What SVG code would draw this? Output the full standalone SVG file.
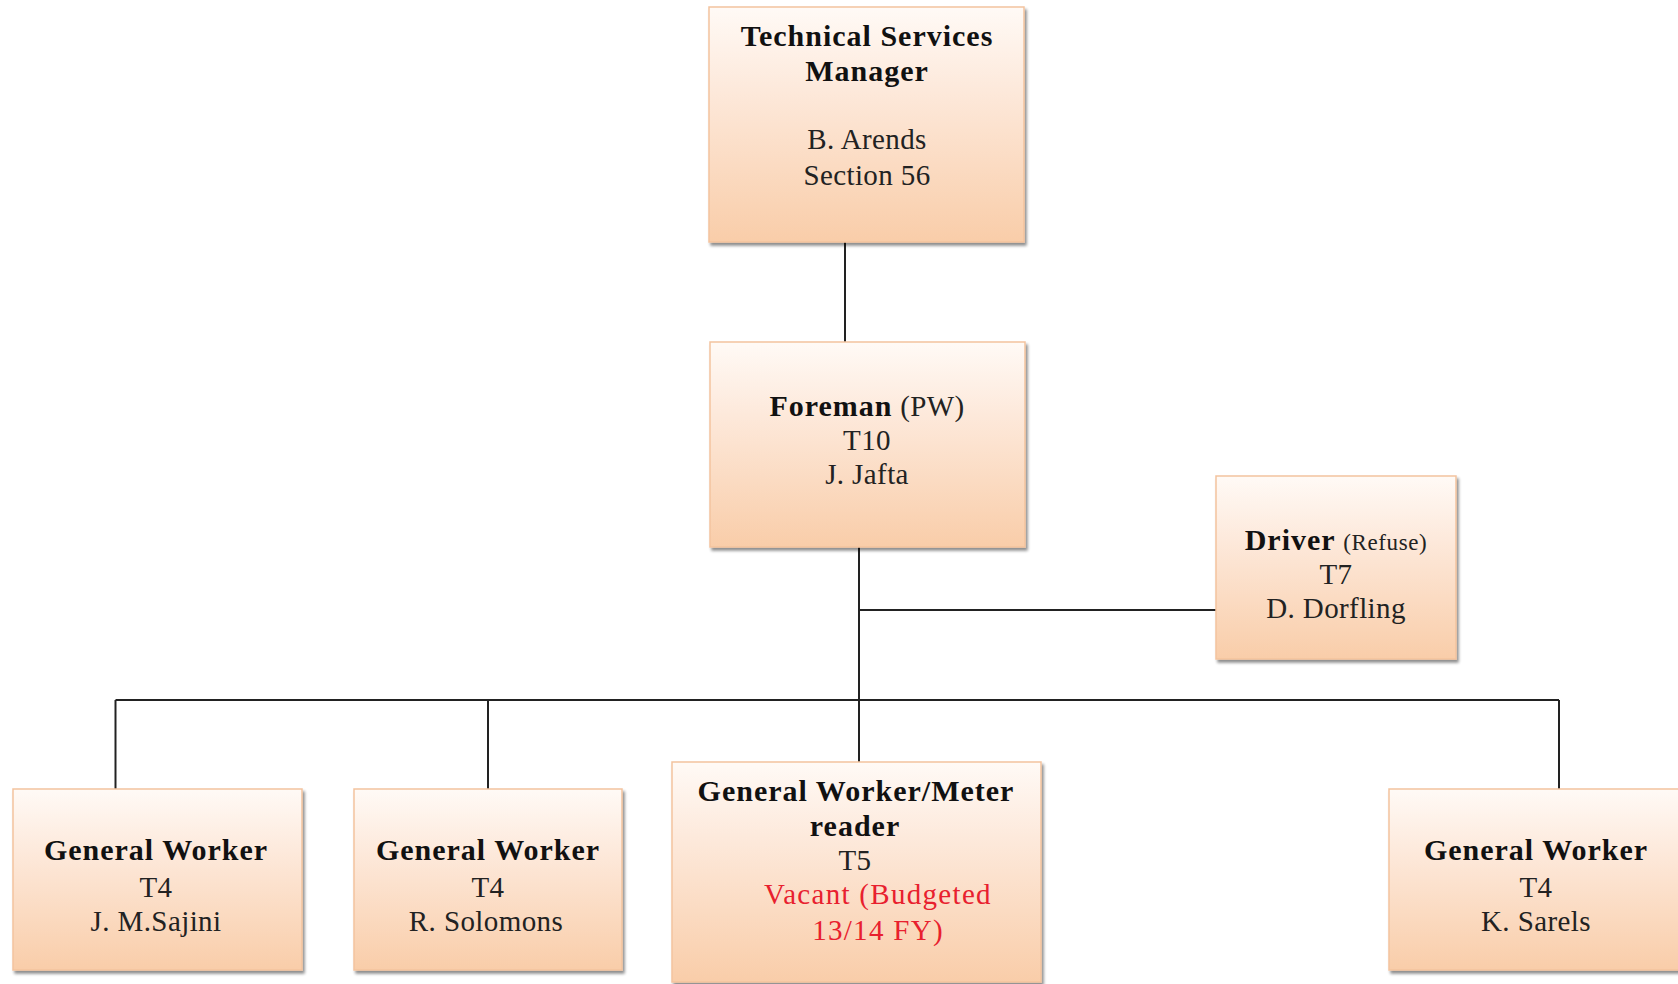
<svg xmlns="http://www.w3.org/2000/svg" width="1678" height="984" viewBox="0 0 1678 984">
<defs>
<linearGradient id="peach" x1="0" y1="0" x2="0" y2="1">
<stop offset="0" stop-color="#fffaf6"/>
<stop offset="0.35" stop-color="#fde9db"/>
<stop offset="1" stop-color="#f9cda9"/>
</linearGradient>
<filter id="sh" x="-5%" y="-5%" width="115%" height="115%">
<feGaussianBlur in="SourceAlpha" stdDeviation="1.5"/>
<feOffset dx="2" dy="3" result="b"/>
<feComponentTransfer><feFuncA type="linear" slope="0.45"/></feComponentTransfer>
<feMerge><feMergeNode/><feMergeNode in="SourceGraphic"/></feMerge>
</filter>
</defs>
<style>
.box{fill:url(#peach);stroke:#f3c39e;stroke-width:1.5;filter:url(#sh)}
.t{font-family:"Liberation Serif","DejaVu Serif",serif;font-size:29px;letter-spacing:0.4px;fill:#222;text-anchor:middle}
.b{font-weight:bold;fill:#111;font-size:30px;letter-spacing:1px}
.sm{font-size:23px;letter-spacing:0.6px}
.red{fill:#e8202e;letter-spacing:1.3px}
.ln{stroke:#222;stroke-width:2;fill:none}
</style>
<rect width="1678" height="984" fill="#fff"/>
<g id="connectors">
<line class="ln" x1="845" y1="242" x2="845" y2="342"/>
<line class="ln" x1="859" y1="547" x2="859" y2="762"/>
<line class="ln" x1="859" y1="610" x2="1216" y2="610"/>
<line class="ln" x1="115.5" y1="700" x2="1559" y2="700"/>
<line class="ln" x1="115.5" y1="700" x2="115.5" y2="789"/>
<line class="ln" x1="488" y1="700" x2="488" y2="789"/>
<line class="ln" x1="1559" y1="700" x2="1559" y2="789"/>
</g>
<g id="tsm">
<rect class="box" x="709" y="7" width="315" height="235"/>
<text class="t b" x="867" y="46">Technical Services</text>
<text class="t b" x="867" y="81">Manager</text>
<text class="t" x="867" y="149">B. Arends</text>
<text class="t" x="867" y="185">Section 56</text>
</g>
<g id="foreman">
<rect class="box" x="710" y="342" width="315" height="205"/>
<text class="t" x="867" y="416"><tspan class="b">Foreman</tspan> (PW)</text>
<text class="t" x="867" y="450">T10</text>
<text class="t" x="867" y="484">J. Jafta</text>
</g>
<g id="driver">
<rect class="box" x="1216" y="476" width="240" height="183"/>
<text class="t" x="1336" y="550"><tspan class="b">Driver</tspan> <tspan class="sm">(Refuse)</tspan></text>
<text class="t" x="1336" y="584">T7</text>
<text class="t" x="1336" y="618">D. Dorfling</text>
</g>
<g id="gw1">
<rect class="box" x="13" y="789" width="289" height="181"/>
<text class="t b" x="156" y="860">General Worker</text>
<text class="t" x="156" y="897">T4</text>
<text class="t" x="156" y="931">J. M.Sajini</text>
</g>
<g id="gw2">
<rect class="box" x="354" y="789" width="268" height="181"/>
<text class="t b" x="488" y="860">General Worker</text>
<text class="t" x="488" y="897">T4</text>
<text class="t" x="486" y="931">R. Solomons</text>
</g>
<g id="gw3">
<rect class="box" x="672" y="762" width="369" height="220"/>
<text class="t b" x="856" y="801">General Worker/Meter</text>
<text class="t b" x="855" y="836">reader</text>
<text class="t" x="855" y="870">T5</text>
<text class="t red" x="878" y="904">Vacant (Budgeted</text>
<text class="t red" x="878" y="940">13/14 FY)</text>
</g>
<g id="gw4">
<rect class="box" x="1389" y="789" width="295" height="181"/>
<text class="t b" x="1536" y="860">General Worker</text>
<text class="t" x="1536" y="897">T4</text>
<text class="t" x="1536" y="931">K. Sarels</text>
</g>
</svg>
